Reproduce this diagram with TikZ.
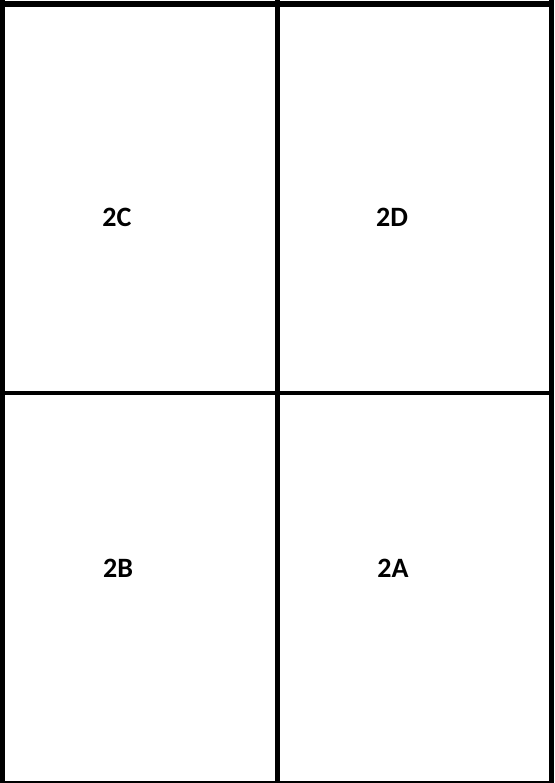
\documentclass[tikz,border=0pt]{standalone}
\usepackage{fontspec}
\setmainfont{Carlito}
\begin{document}
\begin{tikzpicture}[x=1pt,y=-1pt,
  rule/.style={fill=black,draw=none},
  lbl/.style={font=\fontsize{28}{32}\selectfont\bfseries,inner sep=0pt,anchor=center}]
\useasboundingbox (0,0) rectangle (554,783);
\fill[white] (0,0) rectangle (554,783);
% outer frame
\path[rule] (0,1) rectangle (554,7);
\path[rule] (0,0) rectangle (5,783);
\path[rule] (549,0) rectangle (554,783);
\path[rule] (0,780.5) rectangle (554,783);
% dividers
\path[rule] (275,0) rectangle (279.5,783);
\path[rule] (0,391) rectangle (554,395);
% labels
\node[lbl] (c) at (117,217.5) {2C};
\node[lbl] (d) at (392,217.5) {2D};
\node[lbl] (b) at (118,568) {2B};
\node[lbl] (a) at (393,568) {2A};
\end{tikzpicture}
\end{document}
